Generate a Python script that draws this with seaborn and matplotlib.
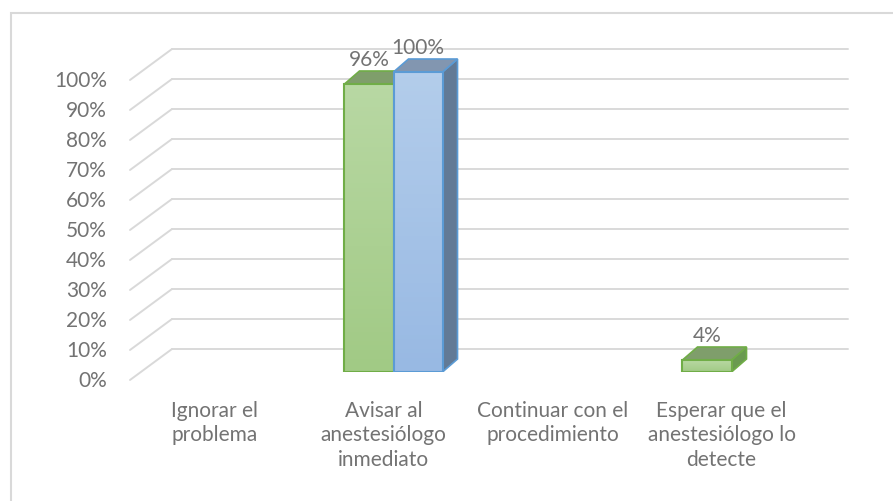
import numpy as np
import pandas as pd
import matplotlib
matplotlib.use("Agg")
import matplotlib.pyplot as plt
from matplotlib.colors import LinearSegmentedColormap
from matplotlib.patches import Polygon, Rectangle
import seaborn as sns

categorias = ["Ignorar el\nproblema", "Avisar al\nanestesiólogo\ninmediato",
              "Continuar con el\nprocedimiento", "Esperar que el\nanestesiólogo lo\ndetecte"]
series = ["Serie 1", "Serie 2"]
serie_1 = [0, 96, 0, 4]
serie_2 = [0, 100, 0, 0]
ticks = list(range(0, 101, 10))

df = pd.DataFrame({
    "categoria": categorias * 2,
    "valor": serie_1 + serie_2,
    "serie": [series[0]] * 4 + [series[1]] * 4,
})

# estilos de cada serie: arriba, abajo, borde, lado, tapa
estilos = [
    dict(arriba="#b8d8a3", abajo="#a1ca85", borde="#70ad47", lado="#6a9a50", tapa="#7f9e6b"),
    dict(arriba="#b3cdeb", abajo="#98b9e3", borde="#5b9bd5", lado="#627a96", tapa="#8296b0"),
]
gris = "#d9d9d9"
texto = "#737373"

sns.set_style("white")
plt.rcParams["font.family"] = ["Lato", "DejaVu Sans"]

fig = plt.figure(figsize=(8.93, 5.02), dpi=100)
ax = fig.add_axes([140 / 893, 129 / 502, 676 / 893, 330 / 502])
sns.barplot(data=df, x="categoria", y="valor", hue="serie", palette=["#a9d18e", "#9dc3e6"],
            width=0.58, saturation=1, legend=False, ax=ax)
ax.set_xlim(-0.5, 3.5)
ax.set_ylim(0, 110)
ax.axis("off")

# pixeles -> unidades de datos
px = 676 / 4
py = 330 / 110
bx, by = 32 / px, 23 / py      # pared del fondo
fx, fy = -10 / px, -8 / py     # plano frontal
dx, dy = 15 / px, 13 / py      # profundidad de la barra

for t in ticks:
    ax.plot([-0.5 + bx, 3.5 + bx], [t + by, t + by], color=gris, lw=1.4, zorder=0, clip_on=False)
    ax.plot([-0.5 + fx, -0.5 + bx], [t + fy, t + by], color=gris, lw=1.4, zorder=0, clip_on=False)
    ax.text(-0.5 + fx - 23 / px, t + fy, f"{t}%", ha="right", va="center",
            fontsize=15, color=texto)

for i, cat in enumerate(categorias):
    ax.text(i + fx, fy - 20 / py, cat, ha="center", va="top", fontsize=15,
            color=texto, linespacing=1.27)

z = 2
for cont, est in zip(ax.containers, estilos):
    cmap = LinearSegmentedColormap.from_list("g", [est["abajo"], est["arriba"]])
    for p in cont:
        h = p.get_height()
        if h <= 0:
            p.set_visible(False)
            continue
        x0 = p.get_x()
        x1 = x0 + p.get_width()
        ax.add_patch(Polygon([(x1, 0), (x1, h), (x1 + dx, h + dy), (x1 + dx, dy)],
                             closed=True, fc=est["lado"], ec=est["borde"], lw=1.2, zorder=z))
        ax.add_patch(Polygon([(x0, h), (x1, h), (x1 + dx, h + dy), (x0 + dx, h + dy)],
                             closed=True, fc=est["tapa"], ec=est["borde"], lw=1.2, zorder=z + 1))
        im = ax.imshow(np.linspace(0, 1, 64).reshape(-1, 1), cmap=cmap, origin="lower",
                       extent=[x0, x1, 0, h], aspect="auto", zorder=z + 2)
        im.set_clip_path(p)
        p.set_facecolor("none")
        p.set_edgecolor(est["borde"])
        p.set_linewidth(1.5)
        p.set_zorder(z + 3)
        ax.text((x0 + x1) / 2, h + dy + 12 / py, f"{h:g}%", ha="center", va="center",
                fontsize=15, color=texto, zorder=10)
        z += 4

ax.set_xlim(-0.5, 3.5)
ax.set_ylim(0, 110)

fig.add_artist(Rectangle((11 / 893, -0.05), 1.0, (502 - 14) / 502 + 0.05,
                         transform=fig.transFigure, fill=False, ec=gris, lw=1.5))

fig.savefig("out.png", dpi=100)
